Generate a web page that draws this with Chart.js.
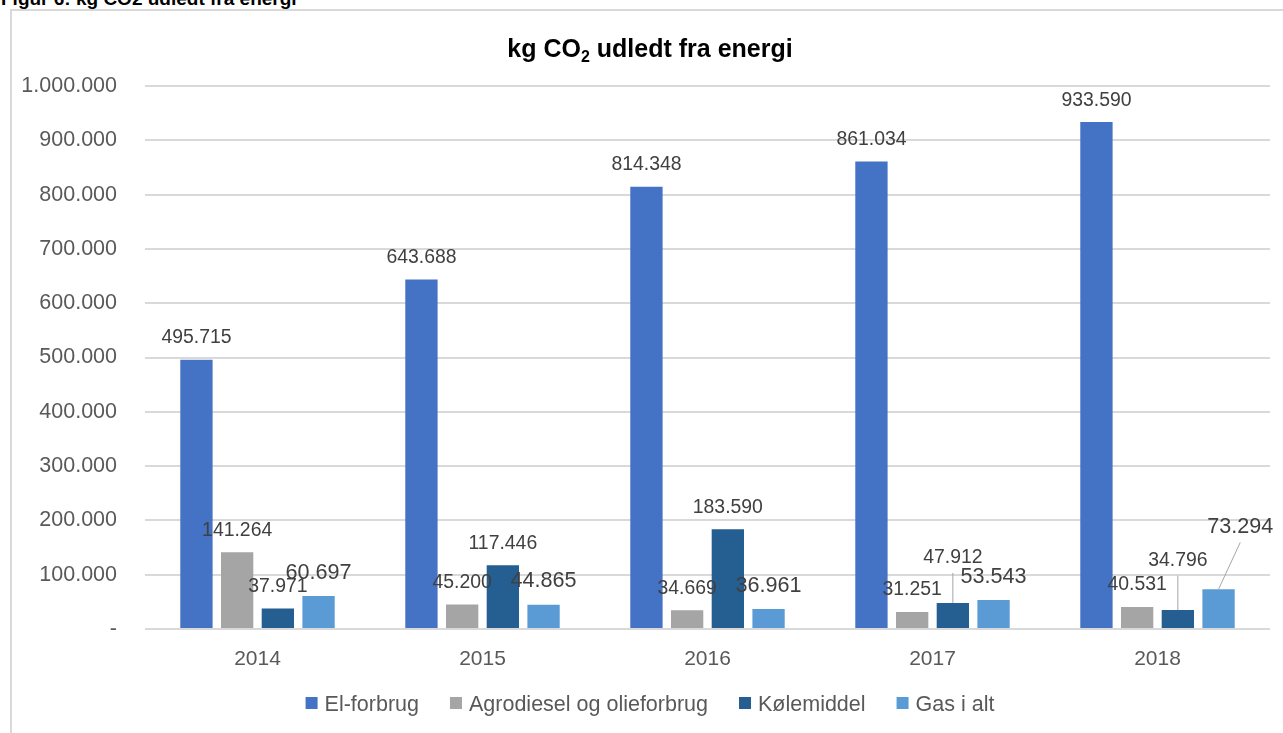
<!DOCTYPE html>
<html lang="da">
<head>
<meta charset="utf-8">
<title>kg CO2 udledt fra energi</title>
<script src="https://cdn.jsdelivr.net/npm/chart.js@4/dist/chart.umd.min.js"></script>
<style>
  html, body { margin: 0; padding: 0; width: 1283px; height: 733px; overflow: hidden; background: #fff; }
  .caption { position: absolute; left: 1px; top: -11px; font: bold 19px "Liberation Sans", Arial, sans-serif; line-height: 19px; color: #000; white-space: nowrap; }
  .frame { position: absolute; left: 10px; top: 9px; width: 1300px; height: 760px; border: 2px solid #d9d9d9; box-sizing: border-box; }
  #chart { position: absolute; left: 0; top: 0; }
</style>
</head>
<body>
<div class="caption">Figur 6: kg CO2 udledt fra energi</div>
<div class="frame"></div>
<canvas id="chart" width="1283" height="733"></canvas>
<script>
// kg CO2 per year, split by source
const years = ['2014', '2015', '2016', '2017', '2018'];
const elForbrug = [495715, 643688, 814348, 861034, 933590];
const agrodiesel = [141264, 45200, 34669, 31251, 40531];
const koelemiddel = [37971, 117446, 183590, 47912, 34796];
const gasIAlt = [60697, 44865, 36961, 53543, 73294];
const seriesNames = ['El-forbrug', 'Agrodiesel og olieforbrug', 'Kølemiddel', 'Gas i alt'];
const titleParts = ['kg CO', '2', ' udledt fra energi'];
const yMax = 1000000;
const yStep = 100000;

const seriesColors = ['#4472C4', '#A5A5A5', '#255E91', '#5B9BD5'];
const FONT = '"Liberation Sans", Arial, sans-serif';

// Labels that sit away from their bar (dataset:index), joined by a leader line
const labelShift = {
  '2:3': { dx: 0, dy: -23.5, leader: true },
  '2:4': { dx: 0, dy: -28, leader: true },
  '3:4': { dx: 21.7, dy: -38.8, leader: true }
};

// Danish number format: dot as thousands separator, dash for zero
function formatDa(v) {
  if (v === 0) return '-';
  return String(Math.round(v)).replace(/\B(?=(\d{3})+(?!\d))/g, '.');
}

const chartTitle = {
  id: 'chartTitle',
  afterDraw(chart) {
    const ctx = chart.ctx;
    const bigFont = 'bold 25px ' + FONT;
    const subFont = 'bold 16px ' + FONT;
    ctx.save();
    const widths = titleParts.map((t, i) => {
      ctx.font = i === 1 ? subFont : bigFont;
      return ctx.measureText(t).width;
    });
    const total = widths.reduce((a, b) => a + b, 0);
    let x = 650 - total / 2;
    const base = 57;
    ctx.fillStyle = '#000';
    ctx.textAlign = 'left';
    ctx.textBaseline = 'alphabetic';
    titleParts.forEach((t, i) => {
      ctx.font = i === 1 ? subFont : bigFont;
      ctx.fillText(t, x, i === 1 ? base + 5 : base);
      x += widths[i];
    });
    ctx.restore();
  }
};

const valueLabels = {
  id: 'valueLabels',
  afterDatasetsDraw(chart) {
    const ctx = chart.ctx;
    ctx.save();
    chart.data.datasets.forEach((ds, di) => {
      const meta = chart.getDatasetMeta(di);
      const large = di === 3;
      const size = large ? 21.6 : 19.4;
      meta.data.forEach((bar, i) => {
        const shift = labelShift[di + ':' + i] || { dx: 0, dy: 0 };
        const cx = bar.x + shift.dx;
        const cy = bar.y - (large ? 25 : 23.5) + shift.dy;
        if (shift.leader) {
          ctx.strokeStyle = '#a6a6a6';
          ctx.lineWidth = 1;
          ctx.beginPath();
          ctx.moveTo(cx, cy + 17);
          ctx.lineTo(bar.x, bar.y);
          ctx.stroke();
        }
        ctx.font = size + 'px ' + FONT;
        ctx.fillStyle = '#404040';
        ctx.textAlign = 'center';
        ctx.textBaseline = 'alphabetic';
        ctx.fillText(formatDa(ds.data[i]), cx, cy + size * 0.358);
      });
    });
    ctx.restore();
  }
};

const legendRow = {
  id: 'legendRow',
  afterDraw(chart) {
    const ctx = chart.ctx;
    const box = 12, gap = 7, spacing = 31, size = 21.5, cy = 703;
    ctx.save();
    ctx.font = size + 'px ' + FONT;
    const items = chart.data.datasets.map(ds => ({ label: ds.label, color: ds.backgroundColor, w: ctx.measureText(ds.label).width }));
    const total = items.reduce((s, it) => s + box + gap + it.w, 0) + spacing * (items.length - 1);
    let x = 650 - total / 2;
    items.forEach(it => {
      ctx.fillStyle = it.color;
      ctx.fillRect(x, cy - box / 2, box, box);
      x += box + gap;
      ctx.fillStyle = '#595959';
      ctx.textAlign = 'left';
      ctx.textBaseline = 'alphabetic';
      ctx.fillText(it.label, x, cy + size * 0.358);
      x += it.w + spacing;
    });
    ctx.restore();
  }
};

Chart.defaults.font.family = FONT;

new Chart(document.getElementById('chart'), {
  type: 'bar',
  data: {
    labels: years,
    datasets: [
      { label: seriesNames[0], data: elForbrug, backgroundColor: seriesColors[0] },
      { label: seriesNames[1], data: agrodiesel, backgroundColor: seriesColors[1] },
      { label: seriesNames[2], data: koelemiddel, backgroundColor: seriesColors[2] },
      { label: seriesNames[3], data: gasIAlt, backgroundColor: seriesColors[3] }
    ]
  },
  options: {
    responsive: false,
    animation: false,
    layout: { padding: { top: 86, right: 13, left: 0, bottom: 0 } },
    datasets: { bar: { categoryPercentage: 0.7236, barPercentage: 0.794 } },
    plugins: {
      legend: { display: false },
      title: { display: false },
      tooltip: { enabled: false }
    },
    scales: {
      x: {
        grid: { display: false, drawTicks: false },
        border: { display: false },
        ticks: { color: '#595959', font: { size: 21 }, padding: 18, maxRotation: 0, autoSkip: false },
        afterFit(scale) { scale.height = 104; }
      },
      y: {
        min: 0,
        max: yMax,
        ticks: { stepSize: yStep, callback: v => formatDa(v), color: '#595959', font: { size: 21.5 }, padding: 28 },
        grid: { color: '#d9d9d9', lineWidth: 2, drawTicks: false },
        border: { display: false },
        afterFit(scale) { scale.width = 145; }
      }
    }
  },
  plugins: [chartTitle, valueLabels, legendRow]
});
</script>
</body>
</html>
